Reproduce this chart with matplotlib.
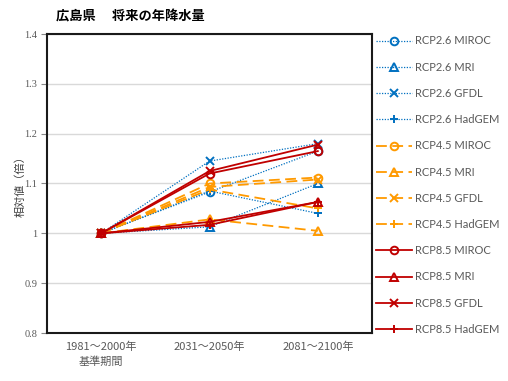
import matplotlib
matplotlib.use("Agg")
import matplotlib.pyplot as plt

plt.rcParams['font.family'] = ['Noto Sans CJK JP', 'DejaVu Sans']

periods = ['1981～2000年\n基準期間', '2031～2050年', '2081～2100年']
series_names = ['RCP2.6 MIROC', 'RCP2.6 MRI', 'RCP2.6 GFDL', 'RCP2.6 HadGEM',
                'RCP4.5 MIROC', 'RCP4.5 MRI', 'RCP4.5 GFDL', 'RCP4.5 HadGEM',
                'RCP8.5 MIROC', 'RCP8.5 MRI', 'RCP8.5 GFDL', 'RCP8.5 HadGEM']
rcp26_miroc = [1.0, 1.083, 1.165]
rcp26_mri = [1.0, 1.013, 1.100]
rcp26_gfdl = [1.0, 1.145, 1.180]
rcp26_hadgem = [1.0, 1.085, 1.040]
rcp45_miroc = [1.0, 1.100, 1.112]
rcp45_mri = [1.0, 1.028, 1.005]
rcp45_gfdl = [1.0, 1.093, 1.108]
rcp45_hadgem = [1.0, 1.088, 1.050]
rcp85_miroc = [1.0, 1.120, 1.165]
rcp85_mri = [1.0, 1.023, 1.063]
rcp85_gfdl = [1.0, 1.125, 1.178]
rcp85_hadgem = [1.0, 1.017, 1.063]
yticks = [0.8, 0.9, 1.0, 1.1, 1.2, 1.3, 1.4]
ytick_labels = ['0.8', '0.9', '1', '1.1', '1.2', '1.3', '1.4']

values = [rcp26_miroc, rcp26_mri, rcp26_gfdl, rcp26_hadgem,
          rcp45_miroc, rcp45_mri, rcp45_gfdl, rcp45_hadgem,
          rcp85_miroc, rcp85_mri, rcp85_gfdl, rcp85_hadgem]

blue, orange, red = '#0070C0', '#FF9A00', '#C00000'
colors = [blue] * 4 + [orange] * 4 + [red] * 4
styles = [(0, (1, 1.2))] * 4 + [(0, (6, 3))] * 4 + ['-'] * 4
widths = [0.9] * 4 + [1.3] * 4 + [1.3] * 4
markers = ['o', '^', 'x', '+'] * 3

fig = plt.figure(figsize=(5.08, 3.81), dpi=100)
ax = fig.add_axes([47 / 508, 48 / 381, 325 / 508, 299 / 381])

x = list(range(len(periods)))
for name, v, c, ls, lw, m in zip(series_names, values, colors, styles, widths, markers):
    ax.plot(x, v, color=c, linestyle=ls, linewidth=lw, marker=m,
            markersize=5.5, markerfacecolor='none', markeredgecolor=c,
            markeredgewidth=1.4, label=name)

ax.set_xlim(-0.5, 2.5)
ax.set_ylim(0.8, 1.4)
ax.set_yticks(yticks)
ax.set_yticklabels(ytick_labels, fontfamily='Liberation Serif', fontsize=7.5, color='#595959')
ax.set_xticks(x)
ax.set_xticklabels(periods, fontsize=8, color='#595959', linespacing=1.5)
ax.tick_params(axis='x', length=0, pad=6)
ax.tick_params(axis='y', length=4, width=0.8, color='#888888', pad=3)
ax.grid(axis='y', color='#d9d9d9', linewidth=1)
ax.set_axisbelow(True)
for s in ax.spines.values():
    s.set_linewidth(1.5)
    s.set_color('#1a1a1a')

ax.set_ylabel('相対値（倍）', fontsize=8, color='#404040', labelpad=-1)

fig.text(130 / 508, 1 - 17 / 381, '広島県　 将来の年降水量', fontsize=9.5,
         fontweight='bold', ha='center', va='center')

leg = ax.legend(loc='upper left', bbox_to_anchor=(376 / 508, 1 - 35.5 / 381),
                bbox_transform=fig.transFigure, frameon=False,
                handlelength=3.2, handletextpad=0.3,
                labelspacing=1.37, borderpad=0, borderaxespad=0,
                prop={'family': ['Lato', 'DejaVu Sans'], 'size': 8})
for t in leg.get_texts():
    t.set_color('#595959')

fig.savefig('out.png', dpi=100)
